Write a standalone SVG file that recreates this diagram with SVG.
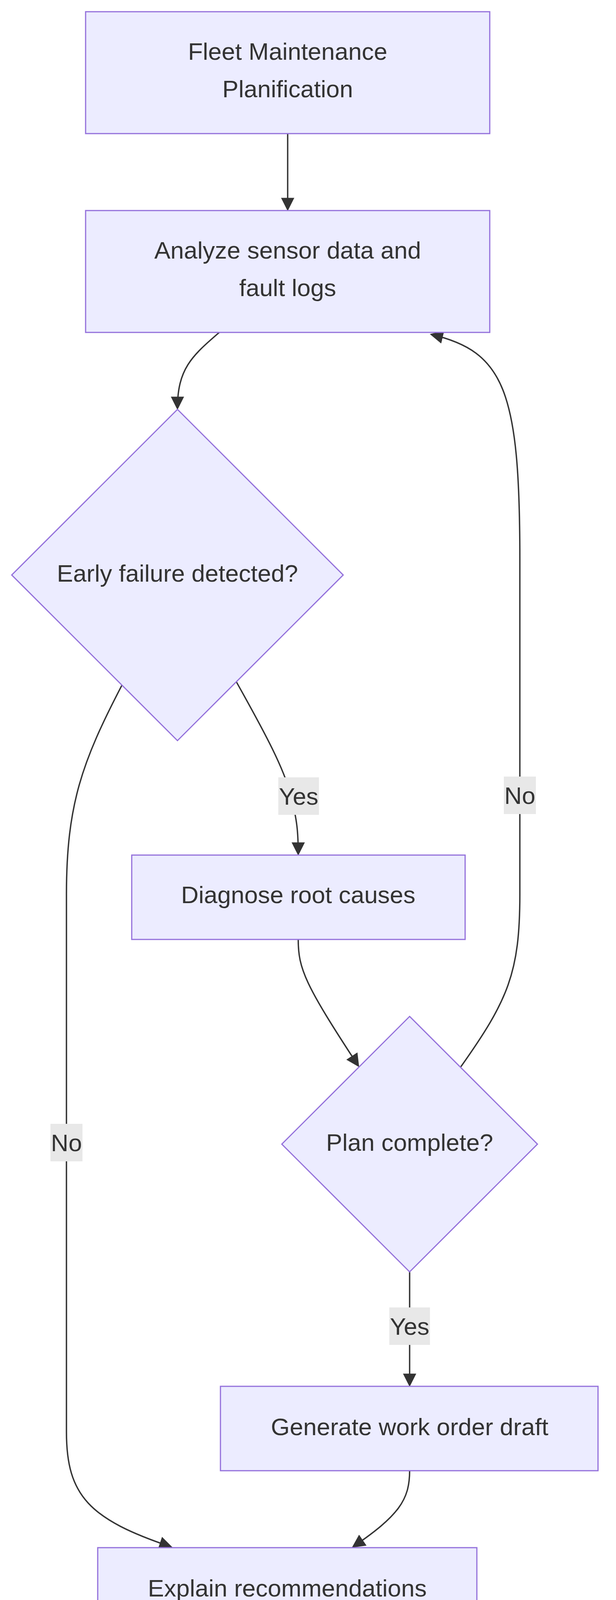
<svg xmlns="http://www.w3.org/2000/svg" width="1576" height="4240" viewBox="0 0 1576 4240">
<style>
.n{fill:#ECECFF;stroke:#9370DB;stroke-width:3}
.t{font-family:"Liberation Sans",Arial,sans-serif;font-size:62px;fill:#333;text-anchor:middle;dominant-baseline:central}
.e{fill:none;stroke:#333;stroke-width:3.5}
.lb{fill:#e8e8e8}
</style>
<defs><marker id="a" markerUnits="userSpaceOnUse" markerWidth="34" markerHeight="34" viewBox="0 0 10 10" refX="9" refY="5" orient="auto"><path d="M0,0L10,5L0,10z" fill="#333"/></marker></defs>
<rect width="1576" height="4240" fill="#fff"/>
<g id="edges">
<path class="e" d="M736,342V537" marker-end="url(#a)"/>
<path class="e" d="M561,851C490,912 454,945 454,1046" marker-end="url(#a)"/>
<path class="e" d="M605,1746C680,1880 728,1970 745,2040C760,2100 763,2130 763,2187" marker-end="url(#a)"/>
<path class="e" d="M312,1754C210,1950 170,2060 170,2290V3666C170,3830 230,3890 438,3960" marker-end="url(#a)"/>
<path class="e" d="M763,2405C763,2480 780,2520 917,2729" marker-end="url(#a)"/>
<path class="e" d="M1179,2731C1300,2560 1330,2490 1330,2290V1430C1330,1000 1290,900 1103,856" marker-end="url(#a)"/>
<path class="e" d="M1048,3256V3547" marker-end="url(#a)"/>
<path class="e" d="M1048,3765C1048,3840 1020,3880 903,3960" marker-end="url(#a)"/>
</g>
<g id="labels">
<rect class="lb" x="712" y="1990" width="104" height="96"/><text class="t" x="764" y="2038">Yes</text>
<rect class="lb" x="1289" y="1988" width="82" height="96"/><text class="t" x="1330" y="2036">No</text>
<rect class="lb" x="129" y="2877" width="82" height="96"/><text class="t" x="170" y="2925">No</text>
<rect class="lb" x="996" y="3347" width="104" height="96"/><text class="t" x="1048" y="3395">Yes</text>
</g>
<g id="n1"><rect class="n" x="219" y="30" width="1034" height="312"/><text class="t" x="736" y="131">Fleet Maintenance</text><text class="t" x="736" y="227">Planification</text></g>
<g id="n2"><rect class="n" x="219" y="539" width="1034" height="312"/><text class="t" x="736" y="640">Analyze sensor data and</text><text class="t" x="736" y="736">fault logs</text></g>
<g id="d1"><polygon class="n" points="454,1048 878,1472 454,1896 30,1472"/><text class="t" x="454" y="1467">Early failure detected?</text></g>
<g id="n3"><rect class="n" x="337" y="2189" width="853" height="216"/><text class="t" x="763" y="2290">Diagnose root causes</text></g>
<g id="d2"><polygon class="n" points="1048,2602 1375,2929 1048,3256 721,2929"/><text class="t" x="1048" y="2924">Plan complete?</text></g>
<g id="n4"><rect class="n" x="564" y="3549" width="966" height="216"/><text class="t" x="1048" y="3652">Generate work order draft</text></g>
<g id="n5"><rect class="n" x="250" y="3962" width="970" height="216"/><text class="t" x="735" y="4065">Explain recommendations</text></g>
</svg>
